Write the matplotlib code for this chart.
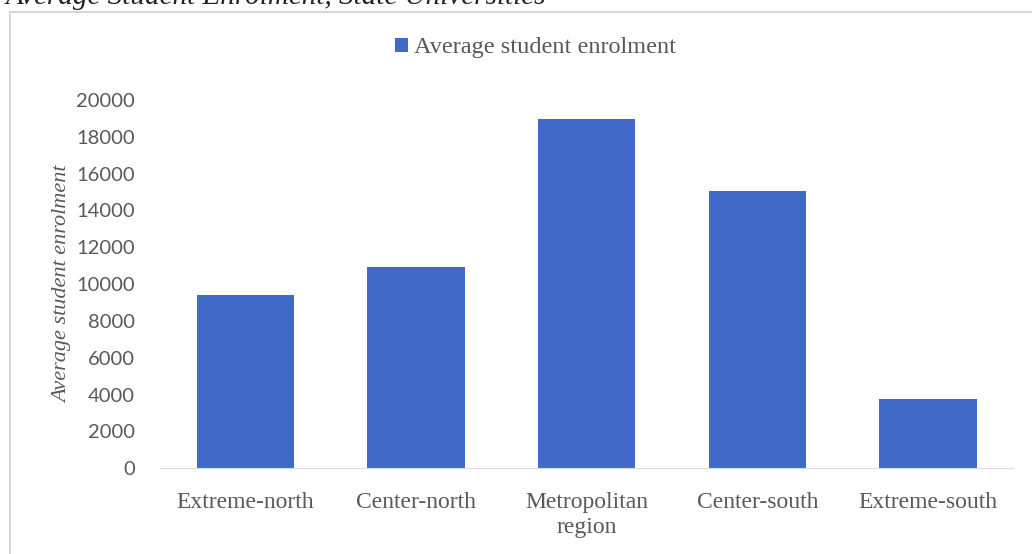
import matplotlib.pyplot as plt
from matplotlib.patches import Rectangle

# data
regions = ['Extreme-north', 'Center-north', 'Metropolitan\nregion', 'Center-south', 'Extreme-south']
enrolment = [9400, 10950, 18950, 15050, 3750]
yticks = list(range(0, 20001, 2000))

serif = 'Liberation Serif'
sans = 'Lato'
grey = '#595959'

fig = plt.figure(figsize=(10.32, 5.54), dpi=100)
ax = fig.add_axes([0.155, 0.155, 0.827, 0.6645])

# chart border box
fig.patches.append(Rectangle((10 / 1032, -0.05), 1.1, 1 - 12 / 554 + 0.05,
                             transform=fig.transFigure, fill=False,
                             edgecolor='#d0d0d0', linewidth=1.2))

ax.bar(range(len(regions)), enrolment, width=0.57, color='#4169C8',
       label='Average student enrolment')

ax.set_xlim(-0.5, len(regions) - 0.5)
ax.set_ylim(0, 20000)
ax.set_yticks(yticks)
ax.set_yticklabels([str(t) for t in yticks], fontfamily=sans, fontsize=14.5, color=grey)
ax.set_xticks(range(len(regions)))
ax.set_xticklabels(regions, fontfamily=serif, fontsize=17, color=grey, linespacing=1.25)
ax.tick_params(axis='x', length=0, pad=17)
ax.tick_params(axis='y', length=0, pad=18)

for s in ['top', 'right', 'left']:
    ax.spines[s].set_visible(False)
ax.spines['bottom'].set_color('#d9d9d9')

ax.set_ylabel('Average student enrolment', fontfamily=serif, fontstyle='italic',
              fontsize=16, color=grey, labelpad=3)

ax.legend(loc='center', bbox_to_anchor=(0.44, 1.0 + 52 / 368),
          frameon=False, prop={'family': serif, 'size': 17.5}, handlelength=0.55,
          handleheight=0.55, handletextpad=0.25, labelcolor=grey)

fig.text(0.005, 1.005, 'Average Student Enrolment, State Universities', fontfamily=serif,
         fontstyle='italic', fontsize=21, color='#222222', va='center', ha='left')

fig.savefig('out.png', dpi=100)
